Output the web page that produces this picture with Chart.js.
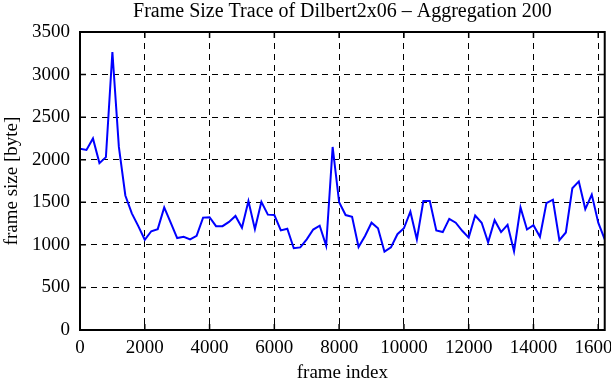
<!DOCTYPE html>
<html>
<head>
<meta charset="utf-8">
<script src="https://cdn.jsdelivr.net/npm/chart.js@4.4.1/dist/chart.umd.min.js"></script>
<style>
  html, body { margin: 0; padding: 0; background: #fff; overflow: hidden; }
  #wrap { width: 631px; height: 380px; }
</style>
</head>
<body>
<div id="wrap"><canvas id="frameChart" width="631" height="380"></canvas></div>
<script>
// frame index (aggregation window of 200 frames)
const frameIndex = [
    0, 200, 400, 600, 800, 1000, 1200, 1400, 1600, 1800,
    2000, 2200, 2400, 2600, 2800, 3000, 3200, 3400, 3600, 3800,
    4000, 4200, 4400, 4600, 4800, 5000, 5200, 5400, 5600, 5800,
    6000, 6200, 6400, 6600, 6800, 7000, 7200, 7400, 7600, 7800,
    8000, 8200, 8400, 8600, 8800, 9000, 9200, 9400, 9600, 9800,
    10000, 10200, 10400, 10600, 10800, 11000, 11200, 11400, 11600, 11800,
    12000, 12200, 12400, 12600, 12800, 13000, 13200, 13400, 13600, 13800,
    14000, 14200, 14400, 14600, 14800, 15000, 15200, 15400, 15600, 15800,
    16000, 16200
];

// frame size [byte]
const frameSize = [
    2130, 2115, 2250, 1960, 2030, 3265, 2150, 1580, 1370, 1220,
    1060, 1160, 1185, 1440, 1260, 1080, 1095, 1065, 1105, 1320,
    1325, 1220, 1220, 1270, 1340, 1200, 1515, 1185, 1505, 1355,
    1350, 1170, 1190, 960, 970, 1065, 1180, 1225, 990, 2150,
    1500, 1350, 1330, 975, 1105, 1260, 1195, 920, 970, 1125,
    1195, 1390, 1065, 1515, 1515, 1170, 1150, 1305, 1260, 1165,
    1085, 1345, 1260, 1030, 1290, 1150, 1235, 925, 1440, 1180,
    1230, 1095, 1490, 1530, 1055, 1145, 1665, 1745, 1420, 1590,
    1260, 1065
];

const xTicks = [0, 2000, 4000, 6000, 8000, 10000, 12000, 14000, 16000];
const yTicks = [0, 500, 1000, 1500, 2000, 2500, 3000, 3500];

const titleText = 'Frame Size Trace of Dilbert2x06 \u2013 Aggregation 200';
const FONT = '"Liberation Serif", "DejaVu Serif", serif';
const FS = 19;

// gnuplot-like frame: solid border, inward tick marks on all four sides, title over the plot
const framePlugin = {
    id: 'frame',
    afterDraw(chart) {
        const { ctx, chartArea: a, scales } = chart;
        const len = 6;
        ctx.save();
        ctx.strokeStyle = '#000';
        ctx.lineWidth = 1.5;
        ctx.beginPath();
        scales.y.ticks.forEach(t => {
            const y = scales.y.getPixelForValue(t.value);
            ctx.moveTo(a.left, y); ctx.lineTo(a.left + len, y);
            ctx.moveTo(a.right, y); ctx.lineTo(a.right - len, y);
        });
        scales.x.ticks.forEach(t => {
            const x = scales.x.getPixelForValue(t.value);
            ctx.moveTo(x, a.bottom); ctx.lineTo(x, a.bottom - len);
            ctx.moveTo(x, a.top); ctx.lineTo(x, a.top + len);
        });
        ctx.stroke();
        ctx.lineWidth = 2;
        ctx.strokeRect(a.left, a.top, a.right - a.left, a.bottom - a.top);

        ctx.fillStyle = '#000';
        ctx.font = (FS + 1) + 'px ' + FONT;
        ctx.textAlign = 'center';
        ctx.textBaseline = 'middle';
        ctx.fillText(titleText, (a.left + a.right) / 2, 12);
        ctx.restore();
    }
};

const ctx = document.getElementById('frameChart').getContext('2d');
new Chart(ctx, {
    type: 'line',
    data: {
        datasets: [{
            data: frameIndex.map((f, i) => ({ x: f, y: frameSize[i] })),
            borderColor: '#0000ff',
            borderWidth: 2,
            pointRadius: 0,
            tension: 0,
            fill: false
        }]
    },
    options: {
        responsive: false,
        animation: false,
        layout: { padding: { top: 32, left: 1, right: 0, bottom: 0 } },
        plugins: {
            legend: { display: false },
            tooltip: { enabled: false }
        },
        scales: {
            x: {
                type: 'linear',
                min: 0,
                max: 16200,
                afterBuildTicks: s => { s.ticks = xTicks.map(v => ({ value: v })); },
                afterFit: s => { s.height = 50; },
                border: { display: false, dash: [6, 5] },
                grid: { color: '#000', lineWidth: 1, drawTicks: false },
                ticks: {
                    maxRotation: 0,
                    autoSkip: false,
                    padding: 9,
                    color: '#000',
                    font: { family: FONT, size: FS, lineHeight: 1 },
                    callback: v => String(v)
                },
                title: {
                    display: true,
                    text: 'frame index',
                    color: '#000',
                    font: { family: FONT, size: FS, lineHeight: 1 },
                    padding: { top: 0, bottom: -3 }
                }
            },
            y: {
                min: 0,
                max: 3500,
                afterBuildTicks: s => { s.ticks = yTicks.map(v => ({ value: v })); },
                border: { display: false, dash: [6, 5] },
                grid: { color: '#000', lineWidth: 1, drawTicks: false },
                ticks: {
                    padding: 10,
                    color: '#000',
                    font: { family: FONT, size: FS },
                    callback: v => String(v)
                },
                title: {
                    display: true,
                    text: 'frame size [byte]',
                    color: '#000',
                    font: { family: FONT, size: FS, lineHeight: 1 },
                    padding: { top: 2, bottom: 0 }
                }
            }
        }
    },
    plugins: [framePlugin]
});
</script>
</body>
</html>
